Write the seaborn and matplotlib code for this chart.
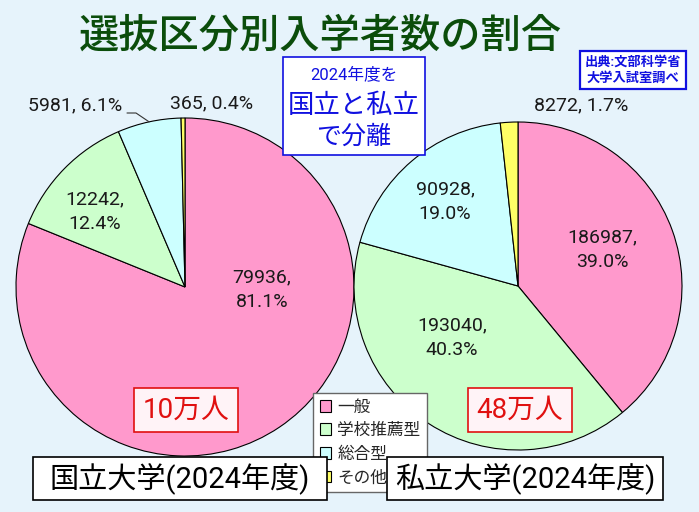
import numpy as np
import matplotlib.pyplot as plt
import matplotlib.patches as mpatches
import seaborn as sns

categories = ['一般', '学校推薦型', '総合型', 'その他']
national_counts = [79936, 12242, 5981, 365]
national_pct = [81.1, 12.4, 6.1, 0.4]
private_counts = [186987, 193040, 90928, 8272]
private_pct = [39.0, 40.3, 19.0, 1.7]
national_total = '10万人'
private_total = '48万人'
national_title = '国立大学(2024年度)'
private_title = '私立大学(2024年度)'

sns.set_theme(style='white')
plt.rcParams['font.family'] = ['Roboto', 'Noto Sans CJK JP', 'DejaVu Sans']

colors = sns.color_palette(['#ff99cc', '#ccffcc', '#ccffff', '#ffff66'])
bg = '#e6f3fb'

W, H = 699, 512
fig = plt.figure(figsize=(W / 100, H / 100), dpi=100)
fig.patch.set_facecolor(bg)
ax = fig.add_axes([0, 0, 1, 1])


def Y(y):
    # pixel row (from top) -> data y
    return H - y


def draw_pie(vals, center, r):
    wedges, _ = ax.pie(vals, colors=colors, startangle=90, counterclock=False,
                       center=center, radius=r,
                       wedgeprops=dict(edgecolor='black', linewidth=0.8))
    return wedges


# national
wn = draw_pie(national_counts, (185, Y(287)), 169)
nat_lab_pos = [(262, 290), (95, 212), (75, 105), (212, 103)]
for i, (c, p) in enumerate(zip(national_counts, national_pct)):
    sep = '\n' if i < 2 else ' '
    ax.text(nat_lab_pos[i][0], Y(nat_lab_pos[i][1]), f'{c},{sep}{p:.1f}%',
            ha='center', va='center', fontsize=14, linespacing=1.45, color='#1a1a1a')
# leader line for the small slice
w = wn[2]
th = np.deg2rad((w.theta1 + w.theta2) / 2)
ex, ey = 185 + 169 * np.cos(th), Y(287) + 169 * np.sin(th)
ax.plot([127, 136, ex], [Y(113), Y(113), ey], color='#333333', lw=0.8)

# private
wp = draw_pie(private_counts, (518, Y(286)), 164)
pri_lab_pos = [(602, 250), (452, 338), (445, 202), (581, 105)]
for i, (c, p) in enumerate(zip(private_counts, private_pct)):
    sep = '\n' if i < 3 else ' '
    ax.text(pri_lab_pos[i][0], Y(pri_lab_pos[i][1]), f'{c},{sep}{p:.1f}%',
            ha='center', va='center', fontsize=14, linespacing=1.45, color='#1a1a1a')

ax.set_xlim(0, W)
ax.set_ylim(0, H)
ax.set_aspect('equal')
ax.axis('off')

# title
ax.text(320, Y(37), '選抜区分別入学者数の割合', ha='center', va='center',
        fontsize=29, color='#0b4d0b', fontweight='medium')

# source box
ax.text(633, Y(70), '出典:文部科学省\n大学入試室調べ', ha='center', va='center',
        fontsize=9.5, color='#1010e0', fontweight='bold', linespacing=1.3,
        bbox=dict(boxstyle='square,pad=0.35', fc='white', ec='#1010e0', lw=1.6))

# center note box
ax.add_patch(mpatches.Rectangle((283, Y(155)), 142, 98, fc='white', ec='#1010e0', lw=1.2, zorder=4))
ax.text(354, Y(74), '2024年度を', ha='center', va='center', fontsize=12, color='#1010e0', zorder=5)
ax.text(354, Y(106), '国立と私立', ha='center', va='center', fontsize=19, color='#1010e0', zorder=5)
ax.text(354, Y(137), 'で分離', ha='center', va='center', fontsize=18, color='#1010e0', zorder=5)

# totals
for x, y, t in [(186, 410, national_total), (520, 410, private_total)]:
    ax.text(x, Y(y), t, ha='center', va='center', fontsize=20, color='#e01010',
            bbox=dict(boxstyle='square,pad=0.3', fc='#fff3f7', ec='#e01010', lw=1.2), zorder=6)

# legend
leg = ax.legend(wn, categories, loc='upper left', bbox_to_anchor=(313 / W, 1 - 393 / H),
                frameon=True, fancybox=False, fontsize=12, handlelength=0.7,
                handleheight=0.7, handletextpad=0.35, labelspacing=0.5,
                borderpad=0.4, borderaxespad=0)
leg.get_frame().set_edgecolor('#666666')
leg.get_frame().set_facecolor('white')
leg.get_frame().set_alpha(1)
leg.set_zorder(5)

# bottom boxes
for x0, x1, t in [(33, 327, national_title), (387, 663, private_title)]:
    ax.add_patch(mpatches.Rectangle((x0, Y(500)), x1 - x0, 43, fc='white', ec='black', lw=1.2, zorder=7))
    ax.text((x0 + x1) / 2, Y(479), t, ha='center', va='center', fontsize=21, color='black', zorder=8)

fig.savefig('out.png', dpi=100, facecolor=bg)
